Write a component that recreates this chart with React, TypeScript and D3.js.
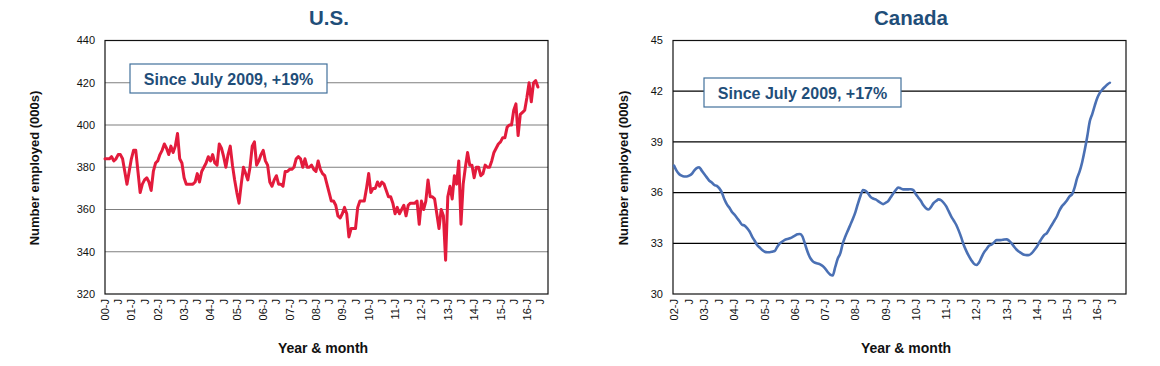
import React from 'react';
import * as d3 from 'd3';

// monthly values, U.S. from 2000-01, Canada from 2002-01 (both through 2016-06)
const US_VALUES = [
  384, 384, 384, 385, 383, 384, 386, 386, 384, 378, 372, 378,
  384, 388, 388, 378, 368, 372, 374, 375, 373, 369, 378, 382,
  383, 386, 388, 391, 389, 386, 390, 387, 390, 396, 384, 382,
  375, 372, 372, 372, 372, 373, 377, 373, 378, 380, 382, 385,
  383, 386, 382, 381, 391, 389, 385, 380, 386, 390, 381, 374,
  368, 363, 372, 380, 377, 374, 380, 390, 392, 381, 383, 386,
  388, 383, 381, 373, 371, 374, 376, 372, 372, 371, 378, 378,
  379, 379, 380, 384, 385, 384, 380, 384, 380, 380, 381, 379,
  378, 383, 379, 377, 376, 372, 368, 364, 364, 362, 357, 356,
  358, 361, 358, 347, 351, 351, 351, 361, 364, 364, 364, 370,
  377, 368, 370, 370, 373, 371, 373, 372, 369, 366, 366, 363,
  358, 361, 358, 360, 362, 357, 362, 363, 363, 363, 364, 353,
  364, 360, 364, 374, 366, 366, 365, 358, 351, 360, 357, 336,
  366, 371, 365, 376, 372, 383, 353, 372, 380, 387, 381, 381,
  375, 380, 380, 376, 377, 381, 380, 380, 383, 387, 389, 391,
  392, 394, 394, 399, 400, 400, 407, 410, 395, 405, 406, 407,
  413, 420, 411, 420, 421, 418
];

const CANADA_VALUES = [
  37.6, 37.3, 37.1, 37.0, 36.95, 36.95, 37.0, 37.1, 37.3, 37.45, 37.5, 37.3,
  37.1, 36.9, 36.7, 36.6, 36.45, 36.4, 36.25, 36.0, 35.6, 35.3, 35.1, 34.85,
  34.7, 34.5, 34.3, 34.1, 34.05, 33.9, 33.7, 33.4, 33.15, 32.9, 32.75, 32.6,
  32.5, 32.47, 32.47, 32.5, 32.55, 32.8, 33.0, 33.1, 33.2, 33.25, 33.3, 33.37,
  33.45, 33.53, 33.55, 33.4, 32.95, 32.5, 32.15, 31.95, 31.85, 31.8, 31.75, 31.65,
  31.5, 31.3, 31.15, 31.1, 31.6, 32.1, 32.4, 33.0, 33.4, 33.75, 34.1, 34.45,
  34.85, 35.35, 35.8, 36.15, 36.1, 35.95, 35.75, 35.65, 35.6, 35.5, 35.4, 35.32,
  35.4, 35.5, 35.72, 35.95, 36.15, 36.3, 36.25, 36.19, 36.19, 36.19, 36.2, 36.15,
  35.9, 35.7, 35.5, 35.25, 35.08, 35.0, 35.15, 35.38, 35.5, 35.6, 35.55, 35.4,
  35.2, 34.9, 34.6, 34.35, 34.1, 33.75, 33.35, 32.9, 32.55, 32.25, 32.0, 31.8,
  31.72, 31.85, 32.15, 32.45, 32.65, 32.85, 32.92, 33.05, 33.19, 33.19, 33.2, 33.22,
  33.23, 33.15, 33.0, 32.8, 32.62, 32.5, 32.4, 32.32, 32.3, 32.31, 32.42, 32.6,
  32.8, 33.05, 33.3, 33.5, 33.6, 33.85, 34.1, 34.35, 34.6, 34.95, 35.2, 35.36,
  35.55, 35.78, 35.9, 36.3, 36.85, 37.25, 37.8, 38.5, 39.3, 40.2, 40.65, 41.15,
  41.6, 41.9, 42.1, 42.25, 42.4, 42.5
];

// a label every 6 months (J = January / July)
const US_X_LABELS = [
  '00-J', 'J', '01-J', 'J', '02-J', 'J', '03-J', 'J', '04-J', 'J', '05-J', 'J',
  '06-J', 'J', '07-J', 'J', '08-J', 'J', '09-J', 'J', '10-J', 'J', '11-J', 'J',
  '12-J', 'J', '13-J', 'J', '14-J', 'J', '15-J', 'J', '16-J', 'J'
];
const CANADA_X_LABELS = [
  '02-J', 'J', '03-J', 'J', '04-J', 'J', '05-J', 'J', '06-J', 'J', '07-J', 'J',
  '08-J', 'J', '09-J', 'J', '10-J', 'J', '11-J', 'J', '12-J', 'J', '13-J', 'J',
  '14-J', 'J', '15-J', 'J', '16-J', 'J'
];

const US_Y_TICKS = [320, 340, 360, 380, 400, 420, 440];
const CANADA_Y_TICKS = [30, 33, 36, 39, 42, 45];

const FONT = '"Liberation Sans", Arial, sans-serif';
const BLUE_TEXT = '#1f4e79';

function Panel(props) {
  const { title, values, xLabels, yTicks, yDomain, left, right, xMax, xMin,
    lineColor, lineWidth, gridColor, note, box, titleX, yTitleX, xTitleX, curve } = props;
  const top = 40.5;
  const bottom = 294;

  const x = d3.scaleLinear().domain([xMin, xMax]).range([left, right]);
  const y = d3.scaleLinear().domain(yDomain).range([bottom, top]);

  const line = d3.line()
    .x((d, i) => x(i))
    .y(d => y(d))
    .curve(curve);

  return (
    <g>
      <text x={titleX} y={25} textAnchor="middle" fontFamily={FONT} fontWeight="bold"
        fontSize={20.5} fill={BLUE_TEXT}>{title}</text>

      {yTicks.map(t => (
        <g key={t}>
          {t !== yDomain[0] && t !== yDomain[1] && (
            <line x1={left} x2={right} y1={y(t)} y2={y(t)} stroke={gridColor} strokeWidth={1.2} />
          )}
          <text x={left - 10} y={y(t)} dy="0.35em" textAnchor="end" fontFamily={FONT}
            fontSize={11} fill="#111">{t}</text>
        </g>
      ))}

      <rect x={left} y={top} width={right - left} height={bottom - top}
        fill="none" stroke="#111" strokeWidth={1.2} />

      <path d={line(values)} fill="none" stroke={lineColor} strokeWidth={lineWidth}
        strokeLinejoin="round" strokeLinecap="round" />

      <rect x={box.x} y={box.y} width={box.w} height={box.h} fill="#fff"
        stroke="#41719c" strokeWidth={1.2} />
      <text x={box.x + box.w / 2} y={box.y + 21} textAnchor="middle" fontFamily={FONT}
        fontWeight="bold" fontSize={16} fill={BLUE_TEXT}>{note}</text>

      {xLabels.map((lab, i) => {
        const px = x(i * 6);
        return (
          <text key={i} transform={`translate(${px},299) rotate(-90)`} textAnchor="end"
            dominantBaseline="central" fontFamily={FONT} fontSize={11} fill="#111">{lab}</text>
        );
      })}

      <text x={xTitleX} y={353} textAnchor="middle" fontFamily={FONT} fontWeight="bold"
        fontSize={14} fill="#111">Year &amp; month</text>
      <text transform={`translate(${yTitleX},168) rotate(-90)`} textAnchor="middle"
        dominantBaseline="central" fontFamily={FONT} fontWeight="bold" fontSize={13}
        fill="#111">Number employed (000s)</text>
    </g>
  );
}

export default function App() {
  return (
    <svg width={1160} height={366} style={{ position: 'absolute', left: 0, top: 0, background: '#fff' }}>
      <rect width={1160} height={366} fill="#fff" />
      <Panel
        title="U.S."
        values={US_VALUES}
        xLabels={US_X_LABELS}
        yTicks={US_Y_TICKS}
        yDomain={[320, 440]}
        left={105}
        right={548}
        xMin={0}
        xMax={201.6}
        lineColor="#e31b3c"
        lineWidth={3}
        gridColor="#7f7f7f"
        note="Since July 2009, +19%"
        box={{ x: 130, y: 64, w: 197, h: 29 }}
        titleX={329}
        yTitleX={34}
        xTitleX={323}
        curve={d3.curveLinear}
      />
      <Panel
        title="Canada"
        values={CANADA_VALUES}
        xLabels={CANADA_X_LABELS}
        yTicks={CANADA_Y_TICKS}
        yDomain={[30, 45]}
        left={673}
        right={1126}
        xMin={-0.4}
        xMax={179.4}
        lineColor="#4a70b4"
        lineWidth={2.6}
        gridColor="#000"
        note="Since July 2009, +17%"
        box={{ x: 704, y: 78, w: 197, h: 29 }}
        titleX={911}
        yTitleX={623}
        xTitleX={906}
        curve={d3.curveMonotoneX}
      />
    </svg>
  );
}
